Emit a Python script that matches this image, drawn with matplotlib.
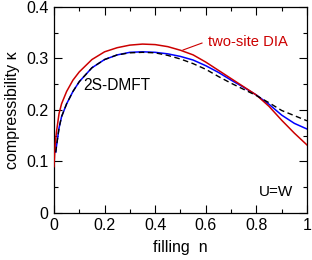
import matplotlib
matplotlib.use("Agg")
import matplotlib.pyplot as plt
from matplotlib.ticker import MultipleLocator

plt.rcParams["font.family"] = ["Liberation Sans", "DejaVu Sans"]

################################################################
##### values

filling = [0.0, 0.005, 0.01, 0.02, 0.03, 0.05, 0.075, 0.1, 0.15, 0.2, 0.25, 0.3,
           0.35, 0.4, 0.45, 0.5, 0.55, 0.6, 0.65, 0.7, 0.75, 0.8, 0.85, 0.9,
           0.95, 1.0]

# two-site DIA (red)
kappa_dia = [0.09, 0.135, 0.158, 0.193, 0.212, 0.236, 0.258, 0.274, 0.298, 0.313,
             0.321, 0.326, 0.328, 0.327, 0.323, 0.316, 0.307, 0.293, 0.277, 0.261,
             0.245, 0.229, 0.207, 0.180, 0.155, 0.132]

# 2S-DMFT (blue), starts just above n = 0
filling_dmft = [0.007] + filling[2:]
kappa_dmft = [0.118, 0.130, 0.165, 0.187, 0.212, 0.236, 0.255, 0.282, 0.298,
              0.307, 0.312, 0.313, 0.312, 0.309, 0.304, 0.297, 0.286, 0.273, 0.258,
              0.244, 0.229, 0.211, 0.190, 0.174, 0.163]

# reference curve (black dashed)
kappa_ref = [0.118, 0.130, 0.165, 0.187, 0.212, 0.236, 0.255, 0.282, 0.298,
             0.307, 0.311, 0.312, 0.311, 0.306, 0.299, 0.290, 0.279, 0.265, 0.252,
             0.240, 0.228, 0.214, 0.199, 0.189, 0.179]

RED = "#cc0000"
BLUE = "#0000ff"

################################################################

fig = plt.figure(figsize=(3.12, 2.6), dpi=100)
ax = fig.add_axes([0.173, 0.181, 0.811, 0.792])

ax.plot(filling, kappa_dia, color=RED, lw=1.1, zorder=3)
ax.plot(filling_dmft, kappa_dmft, color=BLUE, lw=1.1, zorder=2)
ax.plot(filling_dmft, kappa_ref, color="k", lw=1.0, ls=(0, (4, 2.5)), zorder=4)

ax.set_xlim(0, 1)
ax.set_ylim(0, 0.4)
ax.xaxis.set_minor_locator(MultipleLocator(0.1))
ax.yaxis.set_minor_locator(MultipleLocator(0.05))
ax.set_xticks([0, 0.2, 0.4, 0.6, 0.8, 1.0])
ax.set_xticklabels(["0", "0.2", "0.4", "0.6", "0.8", "1"])
ax.set_yticks([0, 0.1, 0.2, 0.3, 0.4])
ax.set_yticklabels(["0", "0.1", "0.2", "0.3", "0.4"])

ax.tick_params(axis="both", which="both", direction="in", top=True, right=True,
               labelsize=11.5, width=0.8)
ax.tick_params(axis="both", which="major", length=5.8, pad=4)
ax.tick_params(axis="both", which="minor", length=2.9)
for sp in ax.spines.values():
    sp.set_linewidth(0.9)

ax.set_xlabel("filling  n", fontsize=11.5, labelpad=5)
ax.set_ylabel("compressibility \u03ba", fontsize=11.5, labelpad=4)

ax.text(0.609, 0.332, "two-site DIA", color=RED, fontsize=10.6, va="center", ha="left")
ax.plot([0.51, 0.585], [0.3165, 0.330], color=RED, lw=0.8)
ax.text(0.115, 0.2485, "2S-DMFT", color="k", fontsize=11.2, va="center", ha="left")
ax.text(0.945, 0.041, "U=W", color="k", fontsize=11, va="center", ha="right")

fig.savefig("out.png", dpi=100)
